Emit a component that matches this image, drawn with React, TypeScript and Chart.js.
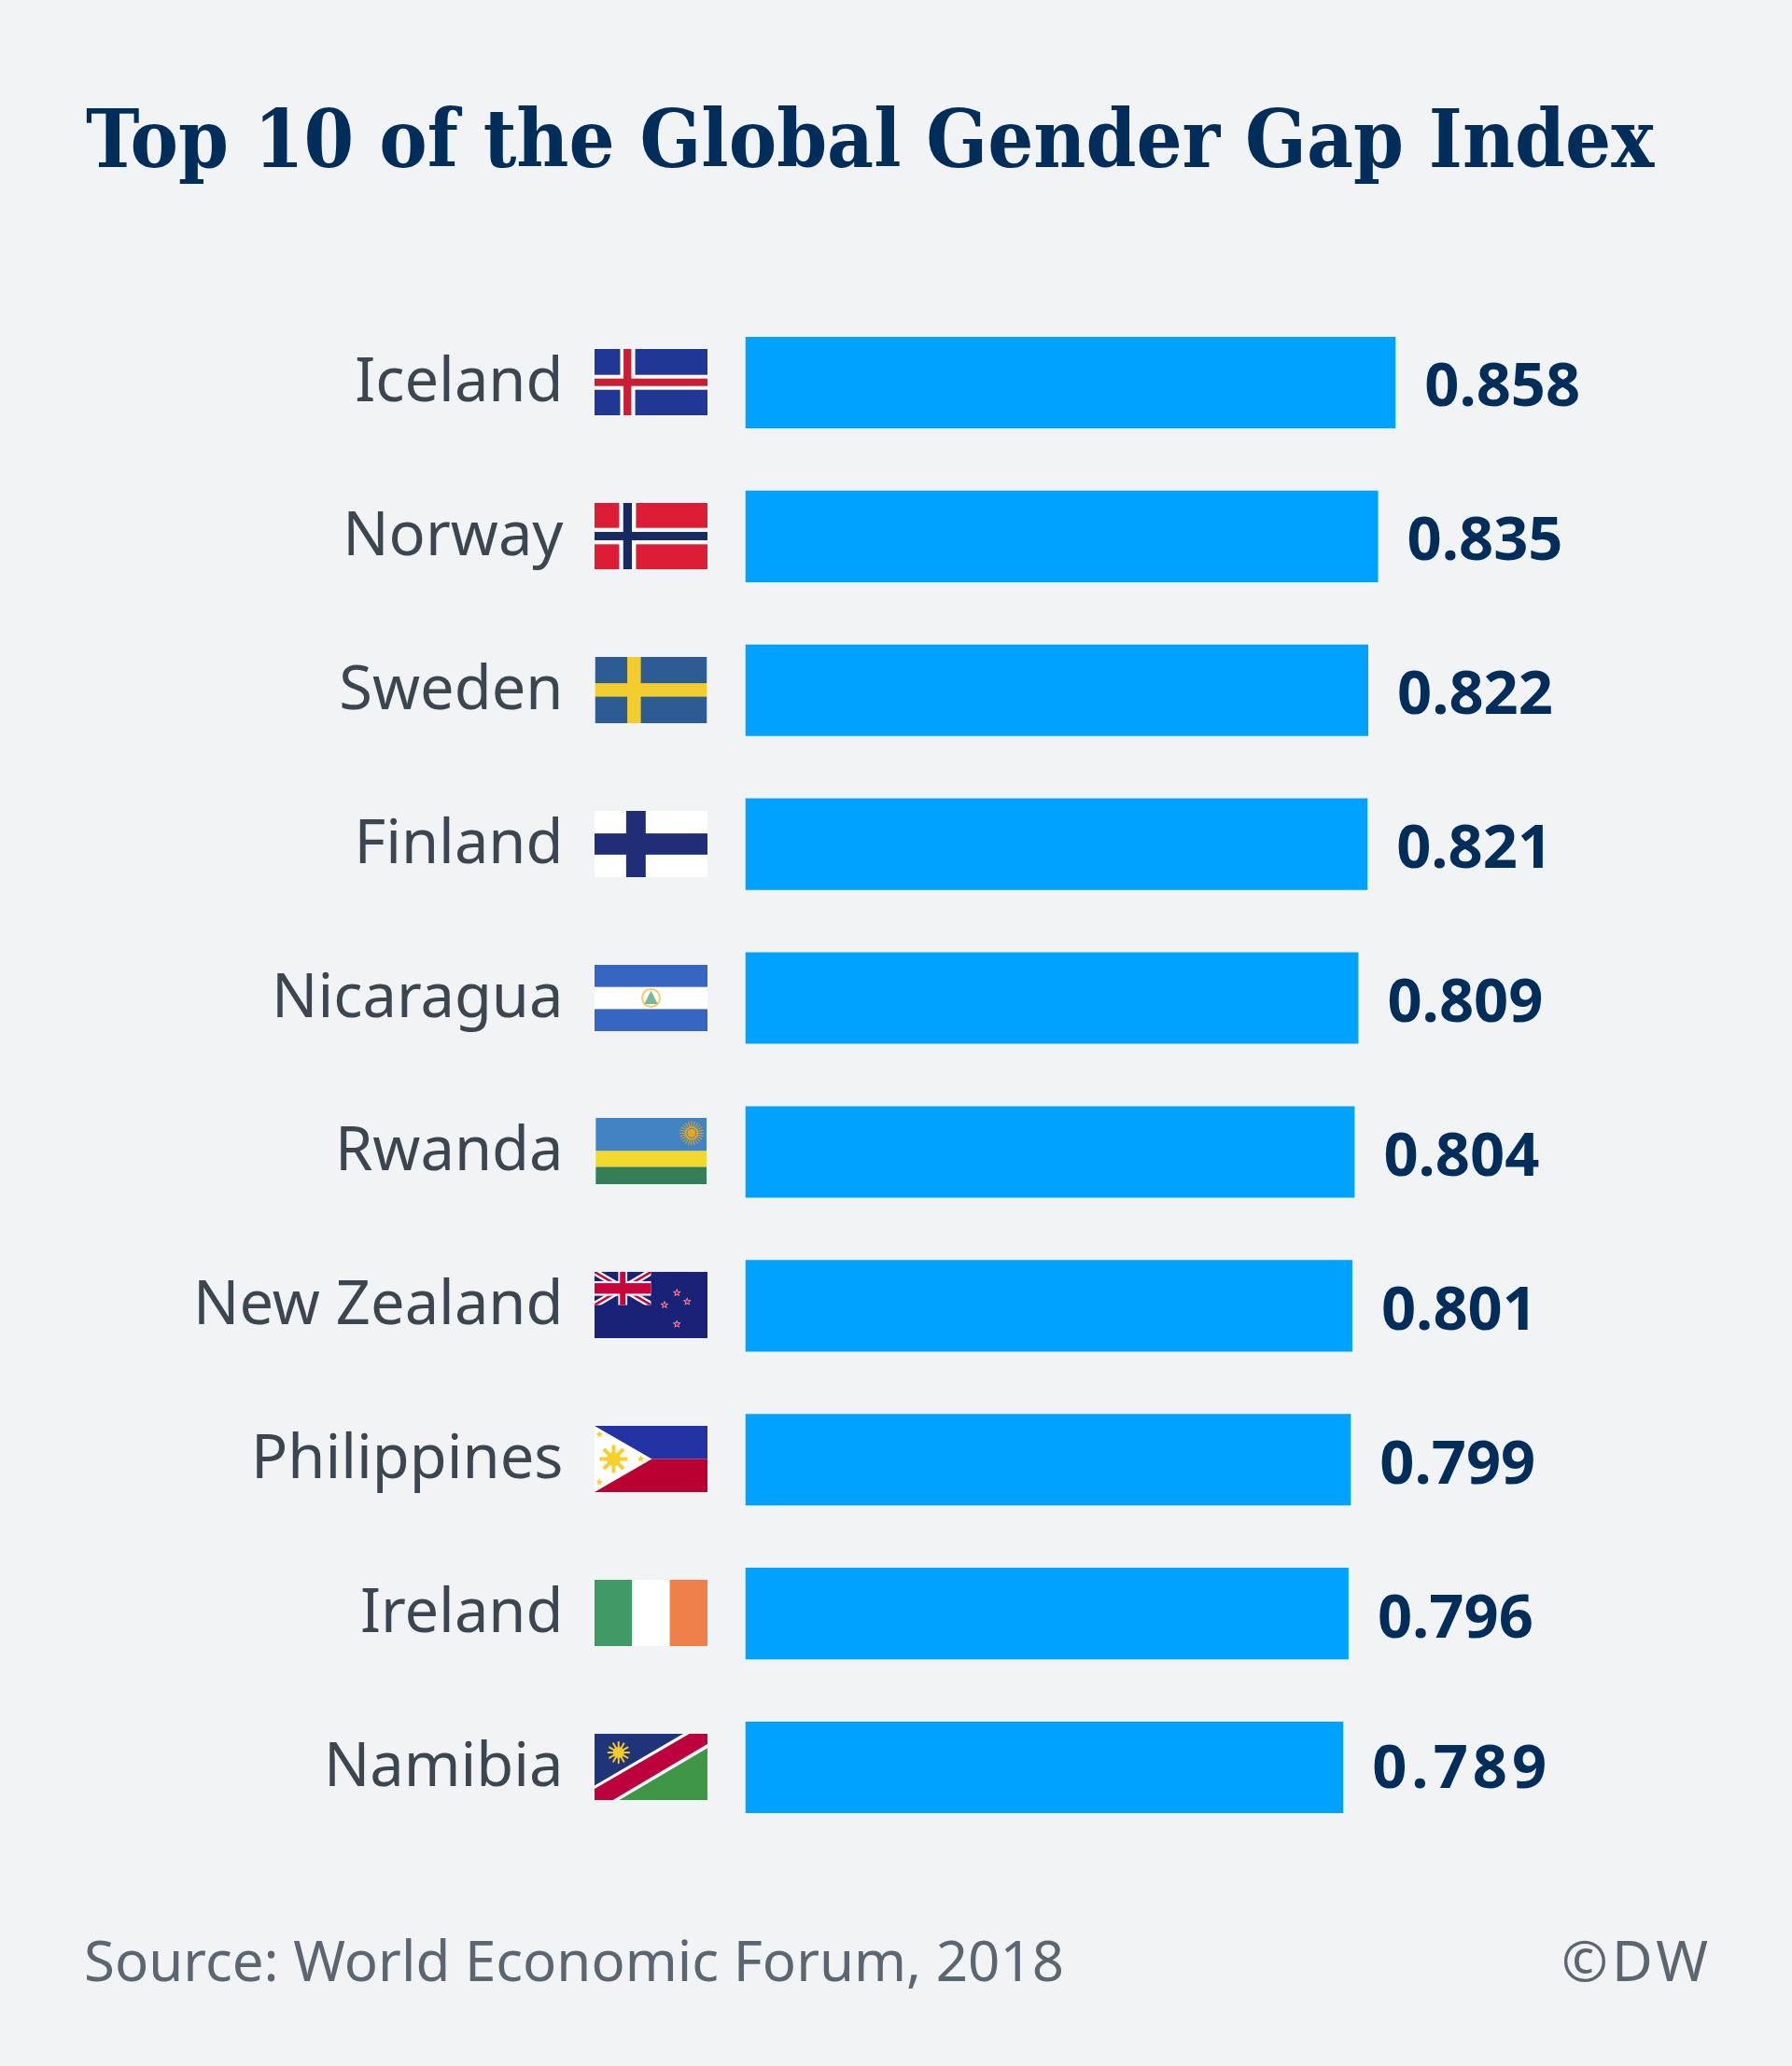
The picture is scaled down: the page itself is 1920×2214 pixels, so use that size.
import React, { useEffect, useRef } from "react";
import { Chart, registerables } from "chart.js";

Chart.register(...registerables);

const TITLE = "Top 10 of the Global Gender Gap Index";
const SOURCE = "Source: World Economic Forum, 2018";
const CREDIT = "©DW";
const countries = ["Iceland", "Norway", "Sweden", "Finland", "Nicaragua", "Rwanda", "New Zealand", "Philippines", "Ireland", "Namibia"];
const scores = [0.858, 0.835, 0.822, 0.821, 0.809, 0.804, 0.801, 0.799, 0.796, 0.789];

const BG = "#f1f3f5";
const BAR = "#00a2ff";
const NAVY = "#002d5a";
const LABEL = "#3c4650";
const SOURCE_C = "#5b6670";

type C = CanvasRenderingContext2D;
type Rct = (x0: number, y0: number, x1: number, y1: number, c: string) => void;
type Pol = (pts: number[][], c: string) => void;
type Kit = { c: C; w: number; h: number; r: Rct; p: Pol };

function star(k: Kit, cx: number, cy: number, rad: number, col: string) {
  const { c, w, h } = k;
  c.beginPath();
  for (let i = 0; i < 10; i++) {
    const a = -Math.PI / 2 + (i * Math.PI) / 5;
    const rr = i % 2 ? rad * 0.45 : rad;
    c.lineTo(cx * w + Math.cos(a) * rr, cy * h + Math.sin(a) * rr);
  }
  c.closePath();
  c.fillStyle = col;
  c.fill();
}

function sun(k: Kit, cx: number, cy: number, rays: number, outer: number, inner: number, col: string, lineW: number) {
  const { c, w, h } = k;
  const X = cx * w, Y = cy * h;
  c.strokeStyle = col;
  c.lineWidth = lineW;
  for (let i = 0; i < rays; i++) {
    const a = (i * 2 * Math.PI) / rays;
    c.beginPath();
    c.moveTo(X, Y);
    c.lineTo(X + Math.cos(a) * outer, Y + Math.sin(a) * outer);
    c.stroke();
  }
  c.beginPath();
  c.arc(X, Y, inner, 0, 2 * Math.PI);
  c.fillStyle = col;
  c.fill();
}

function nordic(k: Kit, field: string, cross: string, vw: number[], vc: number[], hw: number[], hc: number[]) {
  k.r(0, 0, 1, 1, field);
  k.r(vw[0], 0, vw[1], 1, "#ffffff");
  k.r(0, hw[0], 1, hw[1], "#ffffff");
  k.r(vc[0], 0, vc[1], 1, cross);
  k.r(0, hc[0], 1, hc[1], cross);
}

function inset(k: Kit, a: number, b: number) {
  k.r(0, 0, a, 1, BG);
  k.r(1 - b, 0, 1, 1, BG);
}

const flagPainters: ((k: Kit) => void)[] = [
  (k) => nordic(k, "#213795", "#c81e36", [0.227, 0.36], [0.257, 0.326], [0.39, 0.615], [0.446, 0.559]),
  (k) => nordic(k, "#dd1d36", "#182a63", [0.218, 0.367], [0.254, 0.331], [0.376, 0.624], [0.437, 0.563]),
  (k) => {
    k.r(0, 0, 1, 1, "#2d5c94");
    k.r(0.29, 0, 0.41, 1, "#f3cd2f");
    k.r(0, 0.396, 1, 0.6, "#f3cd2f");
    inset(k, 0.006, 0.006);
  },
  (k) => {
    k.r(0, 0, 1, 1, "#ffffff");
    k.r(0.28, 0, 0.453, 1, "#1f2e77");
    k.r(0, 0.34, 1, 0.66, "#1f2e77");
  },
  (k) => {
    const { c, w, h } = k;
    k.r(0, 0, 1, 1, "#3765c2");
    k.r(0, 0.333, 1, 0.667, "#ffffff");
    c.beginPath();
    c.arc(0.5 * w, 0.5 * h, 9.5, 0, 2 * Math.PI);
    c.strokeStyle = "#f3d05a";
    c.lineWidth = 2;
    c.stroke();
    k.p([[0.5, 0.39], [0.56, 0.59], [0.44, 0.59]], "#7fb59a");
  },
  (k) => {
    k.r(0, 0, 1, 0.5, "#4283c3");
    k.r(0, 0.5, 1, 0.74, "#f2d72d");
    k.r(0, 0.74, 1, 1, "#347e58");
    sun(k, 0.859, 0.23, 24, 13, 7, "#e5a823", 1);
    k.c.beginPath();
    k.c.arc(0.859 * k.w, 0.23 * k.h, 5, 0, 2 * Math.PI);
    k.c.strokeStyle = "#4283c3";
    k.c.lineWidth = 1;
    k.c.stroke();
    inset(k, 0.011, 0.008);
  },
  (k) => {
    const { c, w, h } = k;
    k.r(0, 0, 1, 1, "#1a2277");
    const x = 0.5, y = 0.5;
    c.save();
    c.beginPath();
    c.rect(0, 0, x * w, y * h);
    c.clip();
    const diag = (col: string, lw: number) => {
      c.strokeStyle = col;
      c.lineWidth = lw;
      c.beginPath();
      c.moveTo(0, 0);
      c.lineTo(x * w, y * h);
      c.moveTo(x * w, 0);
      c.lineTo(0, y * h);
      c.stroke();
    };
    diag("#ffffff", 7);
    diag("#c8063c", 2.5);
    c.restore();
    k.r(0.21, 0, 0.29, 0.5, "#ffffff");
    k.r(0, 0.14, 0.5, 0.36, "#ffffff");
    k.r(0.225, 0, 0.275, 0.5, "#c8063c");
    k.r(0, 0.17, 0.5, 0.33, "#c8063c");
    const stars = [[0.729, 0.315], [0.619, 0.498], [0.82, 0.448], [0.729, 0.789]];
    stars.forEach(([sx, sy]) => {
      star(k, sx, sy, 4.6, "#e8c4d0");
      star(k, sx, sy, 3, "#cf0a3a");
    });
  },
  (k) => {
    k.r(0, 0, 1, 0.5, "#2433a3");
    k.r(0, 0.5, 1, 1, "#ba0033");
    k.p([[0, 0], [0.508, 0.5], [0, 1]], "#ffffff");
    sun(k, 0.169, 0.5, 8, 15, 7.5, "#f5d02f", 4);
    star(k, 0.044, 0.13, 4, "#f5d02f");
    star(k, 0.044, 0.85, 4, "#f5d02f");
    star(k, 0.41, 0.5, 4, "#f5d02f");
  },
  (k) => {
    k.r(0, 0, 0.334, 1, "#419a66");
    k.r(0.334, 0, 0.666, 1, "#ffffff");
    k.r(0.666, 0, 1, 1, "#f0804a");
  },
  (k) => {
    k.r(0, 0, 1, 1, "#ffffff");
    k.p([[0, 0], [0.785, 0], [0, 0.78]], "#203579");
    k.p([[0.84, 0], [1, 0], [1, 0.155], [0.163, 1], [0, 1], [0, 0.83]], "#bd003e");
    k.p([[1, 0.216], [1, 1], [0.218, 1]], "#3f9647");
    sun(k, 0.213, 0.283, 12, 12, 6, "#f5c92a", 2);
  },
];

const FLAG_W = 121, FLAG_H = 71, FLAG_GAP = 40, VALUE_GAP = 31;

const overlayPlugin = {
  id: "overlay",
  afterDatasetsDraw(chart: any) {
    const { ctx, scales } = chart;
    const yS = scales.y, xS = scales.x;
    const els = chart.getDatasetMeta(0).data;
    ctx.save();
    countries.forEach((_, i) => {
      const cy = yS.getPixelForValue(i);
      const fx = Math.floor(xS.left - FLAG_GAP - FLAG_W);
      const fy = Math.floor(cy - FLAG_H / 2);
      ctx.save();
      ctx.beginPath();
      ctx.rect(fx, fy, FLAG_W, FLAG_H);
      ctx.clip();
      ctx.translate(fx, fy);
      const w = FLAG_W, h = FLAG_H;
      const r: Rct = (x0, y0, x1, y1, c) => {
        ctx.fillStyle = c;
        ctx.fillRect(x0 * w, y0 * h, (x1 - x0) * w, (y1 - y0) * h);
      };
      const p: Pol = (pts, c) => {
        ctx.beginPath();
        pts.forEach(([a, b]) => ctx.lineTo(a * w, b * h));
        ctx.closePath();
        ctx.fillStyle = c;
        ctx.fill();
      };
      flagPainters[i]({ c: ctx, w, h, r, p });
      ctx.restore();

      const spaced = i === countries.length - 1;
      ctx.save();
      ctx.font = "700 65px 'Noto Sans'";
      ctx.fillStyle = NAVY;
      ctx.textAlign = "left";
      ctx.textBaseline = "alphabetic";
      (ctx as any).letterSpacing = spaced ? "5px" : "0px";
      ctx.fillText(scores[i].toFixed(3), els[i].x + VALUE_GAP, cy + (spaced ? 21.5 : 25.5));
      ctx.restore();
    });
    ctx.restore();
  },
};

export default function App() {
  const ref = useRef<HTMLCanvasElement>(null);
  useEffect(() => {
    document.body.style.margin = "0";
    document.body.style.background = BG;
    const chart = new Chart(ref.current!, {
      type: "bar",
      data: {
        labels: countries,
        datasets: [{ data: scores, backgroundColor: BAR, borderWidth: 0, categoryPercentage: 1, barPercentage: 0.595 }],
      },
      plugins: [overlayPlugin],
      options: {
        indexAxis: "y",
        animation: false,
        responsive: false,
        devicePixelRatio: 1,
        layout: { padding: { left: 92, right: 0, top: 0, bottom: 237.5 } },
        scales: {
          x: { display: false, min: 0, max: 1.3811 },
          y: {
            grid: { display: false },
            border: { display: false },
            afterFit: (s: any) => { s.width = 706.5; },
            ticks: { color: LABEL, padding: 187, labelOffset: 1.5, font: { family: "'Noto Sans'", size: 65 }, autoSkip: false },
          },
        },
        plugins: {
          legend: { display: false },
          tooltip: { enabled: false },
          title: {
            display: true,
            text: TITLE,
            align: "start",
            color: NAVY,
            font: { family: "'DejaVu Serif Condensed'", size: 85.8, weight: "bold", lineHeight: 1.2 },
            padding: { top: 105, bottom: 119.54 },
          },
        },
      },
    } as any);
    return () => chart.destroy();
  }, []);
  const foot: React.CSSProperties = {
    position: "absolute",
    top: 2065,
    fontFamily: "'Noto Sans'",
    fontSize: 60,
    lineHeight: "70px",
    color: SOURCE_C,
    whiteSpace: "nowrap",
  };
  return (
    <div style={{ position: "relative", width: 1920, height: 2214, background: BG, overflow: "hidden" }}>
      <canvas ref={ref} width={1920} height={2214} style={{ display: "block", width: 1920, height: 2214 }} />
      <div style={{ ...foot, left: 90 }}>{SOURCE}</div>
      <div style={{ ...foot, right: 86, letterSpacing: 4 }}>{CREDIT}</div>
    </div>
  );
}
